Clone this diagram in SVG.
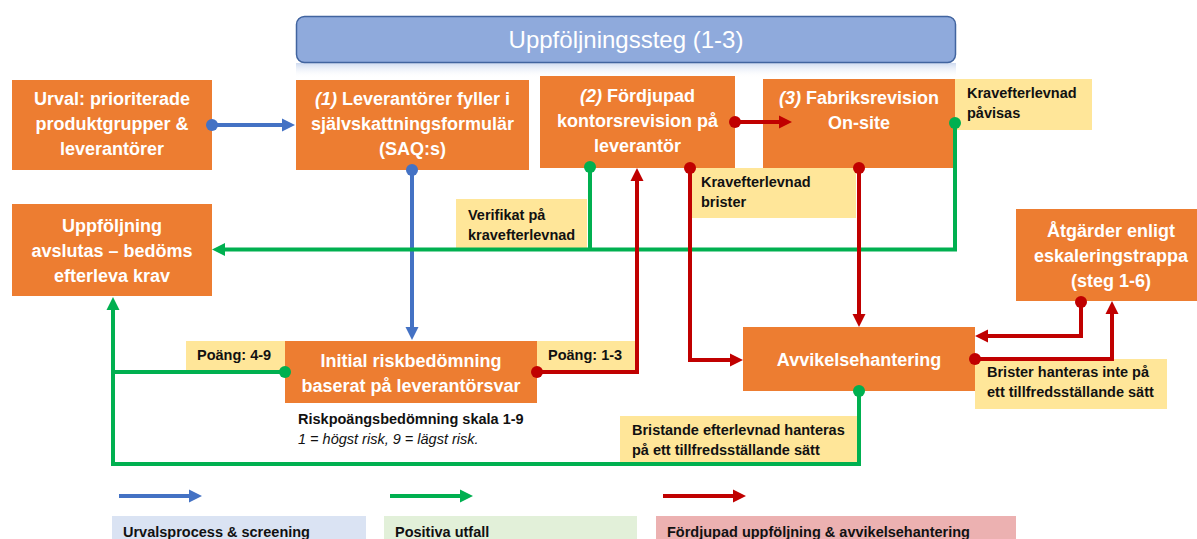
<svg xmlns="http://www.w3.org/2000/svg" width="1197" height="539" viewBox="0 0 1197 539">
<style>
.box{fill:#ED7D31}
.lbl{fill:#FFE699}
.t{font-family:"Liberation Sans",Arial,sans-serif;font-weight:bold;font-size:18px;fill:#fff;text-anchor:middle}
.lt{font-family:"Liberation Sans",Arial,sans-serif;font-weight:bold;font-size:14.5px;fill:#111}
.it{font-style:italic}
.cb{stroke:#4472C4;stroke-width:4;fill:none}
.cg{stroke:#00B050;stroke-width:4;fill:none}
.cr{stroke:#C00000;stroke-width:4;fill:none}
</style>
<defs>
<linearGradient id="refl" x1="0" y1="0" x2="0" y2="1">
<stop offset="0" stop-color="#c9d6ee" stop-opacity="0.9"/>
<stop offset="1" stop-color="#ffffff" stop-opacity="0"/>
</linearGradient>
<marker id="aB" markerUnits="userSpaceOnUse" markerWidth="14" markerHeight="14" refX="8" refY="7" orient="auto"><path d="M0,0.5 L13,7 L0,13.5 z" fill="#4472C4"/></marker>
<marker id="aG" markerUnits="userSpaceOnUse" markerWidth="14" markerHeight="14" refX="8" refY="7" orient="auto"><path d="M0,0.5 L13,7 L0,13.5 z" fill="#00B050"/></marker>
<marker id="aR" markerUnits="userSpaceOnUse" markerWidth="14" markerHeight="14" refX="8" refY="7" orient="auto"><path d="M0,0.5 L13,7 L0,13.5 z" fill="#C00000"/></marker>
<marker id="dB" markerUnits="userSpaceOnUse" markerWidth="14" markerHeight="14" refX="7" refY="7"><circle cx="7" cy="7" r="6" fill="#4472C4"/></marker>
<marker id="dG" markerUnits="userSpaceOnUse" markerWidth="14" markerHeight="14" refX="7" refY="7"><circle cx="7" cy="7" r="6" fill="#00B050"/></marker>
<marker id="dR" markerUnits="userSpaceOnUse" markerWidth="14" markerHeight="14" refX="7" refY="7"><circle cx="7" cy="7" r="6" fill="#C00000"/></marker>
</defs>
<rect width="1197" height="539" fill="#fff"/>

<g id="title">
<rect x="296" y="63" width="660" height="15" fill="url(#refl)"/>
<rect x="296.5" y="16.5" width="659" height="46" rx="8" fill="#8FAADC" stroke="#41649F" stroke-width="1.5"/>
<text x="626" y="48" font-family="Liberation Sans,Arial,sans-serif" font-size="24" fill="#fff" text-anchor="middle">Uppföljningssteg (1-3)</text>
</g>

<g id="urval">
<rect class="box" x="12" y="80" width="200" height="90"/>
<text class="t" x="112" y="105">Urval: prioriterade</text>
<text class="t" x="112" y="130">produktgrupper &amp;</text>
<text class="t" x="112" y="155">leverantörer</text>
</g>

<g id="steg1">
<rect class="box" x="296" y="80" width="233" height="90"/>
<text class="t" x="412.5" y="105"><tspan class="it">(1)</tspan> Leverantörer fyller i</text>
<text class="t" x="412.5" y="130">självskattningsformulär</text>
<text class="t" x="412.5" y="155">(SAQ:s)</text>
</g>

<g id="steg2">
<rect class="box" x="540" y="76" width="195" height="92"/>
<text class="t" x="637.5" y="102"><tspan class="it">(2)</tspan> Fördjupad</text>
<text class="t" x="637.5" y="127">kontorsrevision på</text>
<text class="t" x="637.5" y="152">leverantör</text>
</g>

<g id="steg3">
<rect class="box" x="763" y="79" width="192" height="89"/>
<text class="t" x="859" y="104"><tspan class="it">(3)</tspan> Fabriksrevision</text>
<text class="t" x="859" y="129">On-site</text>
</g>

<g id="uppfoljning">
<rect class="box" x="12" y="204" width="200" height="92"/>
<text class="t" x="112" y="232">Uppföljning</text>
<text class="t" x="112" y="257">avslutas – bedöms</text>
<text class="t" x="112" y="282">efterleva krav</text>
</g>

<g id="initial">
<rect class="box" x="285" y="341" width="252" height="62"/>
<text class="t" x="411" y="367">Initial riskbedömning</text>
<text class="t" x="411" y="392">baserat på leverantörsvar</text>
</g>

<g id="avvikelse">
<rect class="box" x="743" y="327" width="232" height="64"/>
<text class="t" x="859" y="366">Avvikelsehantering</text>
</g>

<g id="atgarder">
<rect class="box" x="1016" y="209" width="190" height="92"/>
<text class="t" x="1111" y="237">Åtgärder enligt</text>
<text class="t" x="1111" y="262">eskaleringstrappa</text>
<text class="t" x="1111" y="287">(steg 1-6)</text>
</g>

<g id="labels">
<rect class="lbl" x="955" y="79" width="137" height="51"/>
<text class="lt" x="967" y="98">Kravefterlevnad</text>
<text class="lt" x="967" y="118">påvisas</text>
<rect class="lbl" x="456" y="199" width="131" height="49"/>
<text class="lt" x="468" y="220">Verifikat på</text>
<text class="lt" x="468" y="240">kravefterlevnad</text>
<rect class="lbl" x="692" y="168" width="164" height="50"/>
<text class="lt" x="701" y="187">Kravefterlevnad</text>
<text class="lt" x="701" y="207">brister</text>
<rect class="lbl" x="186" y="341" width="99" height="30"/>
<text class="lt" x="197" y="360">Poäng: 4-9</text>
<rect class="lbl" x="537" y="341" width="98" height="30"/>
<text class="lt" x="548" y="360">Poäng: 1-3</text>
<rect class="lbl" x="975" y="359" width="192" height="50"/>
<text class="lt" x="987" y="377">Brister hanteras inte på</text>
<text class="lt" x="987" y="397">ett tillfredsställande sätt</text>
<rect class="lbl" x="620" y="416" width="238" height="48"/>
<text class="lt" x="632" y="435">Bristande efterlevnad hanteras</text>
<text class="lt" x="632" y="455">på ett tillfredsställande sätt</text>
<text class="lt" x="298" y="424" font-size="14">Riskpoängsbedömning skala 1-9</text>
<text x="298" y="444" font-family="Liberation Sans,Arial,sans-serif" font-size="14.5" font-style="italic" fill="#111">1 = högst risk, 9 = lägst risk.</text>
</g>

<g id="connectors">
<path class="cb" d="M212,125 H290" marker-start="url(#dB)" marker-end="url(#aB)"/>
<path class="cb" d="M412,170 V335" marker-start="url(#dB)" marker-end="url(#aB)"/>
<path class="cr" d="M735,122 H787" marker-start="url(#dR)" marker-end="url(#aR)"/>
<path class="cg" d="M590,167 V249.5" marker-start="url(#dG)"/>
<path class="cg" d="M955,123 V249.5 H217" marker-start="url(#dG)" marker-end="url(#aG)"/>
<path class="cr" d="M537,372 H637 V173" marker-start="url(#dR)" marker-end="url(#aR)"/>
<path class="cr" d="M690,168 V360 H738" marker-start="url(#dR)" marker-end="url(#aR)"/>
<path class="cr" d="M859,168 V322" marker-start="url(#dR)" marker-end="url(#aR)"/>
<path class="cg" d="M285,372 H113" marker-start="url(#dG)"/>
<path class="cg" d="M859,391 V464 H113 V302" marker-start="url(#dG)" marker-end="url(#aG)"/>
<path class="cr" d="M1081,302 V336 H980" marker-start="url(#dR)" marker-end="url(#aR)"/>
<path class="cr" d="M975,359 H1112 V306" marker-start="url(#dR)" marker-end="url(#aR)"/>
</g>

<g id="legend">
<path class="cb" d="M119,496 H197" marker-end="url(#aB)"/>
<path class="cg" d="M390,496 H468" marker-end="url(#aG)"/>
<path class="cr" d="M663,496 H741" marker-end="url(#aR)"/>
<rect x="112" y="516" width="254" height="30" fill="#DAE3F3"/>
<text class="lt" x="123" y="537">Urvalsprocess &amp; screening</text>
<rect x="384" y="516" width="253" height="30" fill="#E2F0D9"/>
<text class="lt" x="395" y="537">Positiva utfall</text>
<rect x="656" y="516" width="360" height="30" fill="#ECB1B1"/>
<text class="lt" x="667" y="537">Fördjupad uppföljning &amp; avvikelsehantering</text>
</g>
</svg>
